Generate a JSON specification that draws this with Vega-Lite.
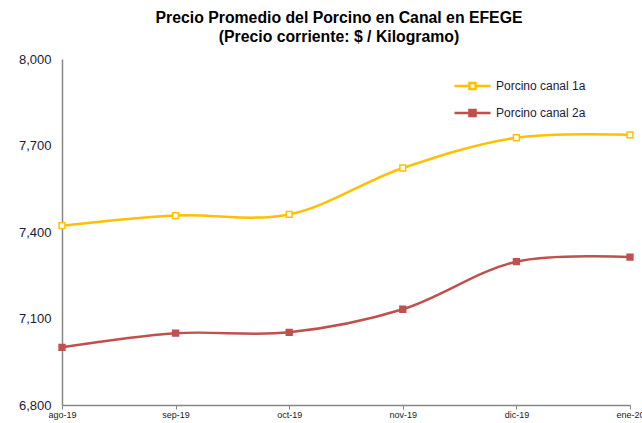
{
  "$schema": "https://vega.github.io/schema/vega-lite/v6.json",
  "autosize": "none",
  "width": 568,
  "height": 346,
  "padding": {"left": 62, "top": 59, "right": 12, "bottom": 18},
  "background": "white",
  "title": {
    "text": ["Precio Promedio del Porcino en Canal en EFEGE", "(Precio corriente: $ / Kilogramo)"],
    "font": "Liberation Sans",
    "fontSize": 15.8,
    "fontWeight": "bold",
    "color": "#000000",
    "anchor": "middle",
    "lineHeight": 19.5,
    "offset": 7,
    "dx": -7
  },
  "config": {
    "view": {"stroke": null},
    "font": "Liberation Sans"
  },
  "data": {
    "values": [
      {"mes": "ago-19", "serie": "Porcino canal 1a", "precio": 7422},
      {"mes": "sep-19", "serie": "Porcino canal 1a", "precio": 7457},
      {"mes": "oct-19", "serie": "Porcino canal 1a", "precio": 7461},
      {"mes": "nov-19", "serie": "Porcino canal 1a", "precio": 7622},
      {"mes": "dic-19", "serie": "Porcino canal 1a", "precio": 7727},
      {"mes": "ene-20", "serie": "Porcino canal 1a", "precio": 7737},
      {"mes": "ago-19", "serie": "Porcino canal 2a", "precio": 7000},
      {"mes": "sep-19", "serie": "Porcino canal 2a", "precio": 7049},
      {"mes": "oct-19", "serie": "Porcino canal 2a", "precio": 7052},
      {"mes": "nov-19", "serie": "Porcino canal 2a", "precio": 7132},
      {"mes": "dic-19", "serie": "Porcino canal 2a", "precio": 7297},
      {"mes": "ene-20", "serie": "Porcino canal 2a", "precio": 7313}
    ]
  },
  "encoding": {
    "x": {
      "field": "mes",
      "type": "ordinal",
      "sort": ["ago-19", "sep-19", "oct-19", "nov-19", "dic-19", "ene-20"],
      "scale": {"type": "point", "padding": 0},
      "axis": {
        "title": null,
        "labelAngle": 0,
        "labelFontSize": 9,
        "labelColor": "#1a1a1a",
        "labelPadding": 1,
        "tickSize": 4,
        "tickColor": "#868686",
        "domainColor": "#868686",
        "domainWidth": 1.5,
        "grid": false
      }
    },
    "y": {
      "field": "precio",
      "type": "quantitative",
      "scale": {"domain": [6800, 8000], "nice": false, "zero": false},
      "axis": {
        "title": null,
        "values": [6800, 7100, 7400, 7700, 8000],
        "format": ",.0f",
        "labelFontSize": 13,
        "labelColor": "#1a1a3a",
        "labelPadding": 11,
        "ticks": false,
        "grid": false,
        "domainColor": "#868686",
        "domainWidth": 1.5
      }
    },
    "stroke": {
      "field": "serie",
      "type": "nominal",
      "scale": {"domain": ["Porcino canal 1a", "Porcino canal 2a"], "range": ["#FFC000", "#C0504D"]},
      "legend": {
        "title": null,
        "orient": "none",
        "legendX": 391,
        "legendY": 19.5,
        "symbolType": "M-1,0H-0.17M0.17,0H1M-0.17,-0.17H0.17V0.17H-0.17Z",
        "symbolSize": 1296,
        "symbolStrokeWidth": 2.5,
        "symbolOpacity": 1,
        "clipHeight": 15,
        "labelFontSize": 12,
        "labelColor": "#1a1a3a",
        "labelOffset": 4,
        "rowPadding": 12
      }
    }
  },
  "layer": [
    {
      "mark": {"type": "line", "interpolate": "catmull-rom", "strokeWidth": 2.5}
    },
    {
      "mark": {"type": "point", "shape": "square", "size": 34, "strokeWidth": 1.5, "opacity": 1, "filled": false},
      "encoding": {
        "fill": {
          "field": "serie",
          "type": "nominal",
          "scale": {"domain": ["Porcino canal 1a", "Porcino canal 2a"], "range": ["#FFFFFF", "#C0504D"]},
          "legend": {
            "title": null,
            "orient": "none",
            "legendX": 391,
            "legendY": 19.5,
            "symbolType": "M-1,0H-0.17M0.17,0H1M-0.17,-0.17H0.17V0.17H-0.17Z",
            "symbolSize": 1296,
            "symbolStrokeWidth": 2.5,
            "symbolOpacity": 1,
            "clipHeight": 15,
            "labelFontSize": 12,
            "labelColor": "#1a1a3a",
            "labelOffset": 4,
            "rowPadding": 12
          }
        },
        "fillOpacity": {"value": 1}
      }
    }
  ]
}
